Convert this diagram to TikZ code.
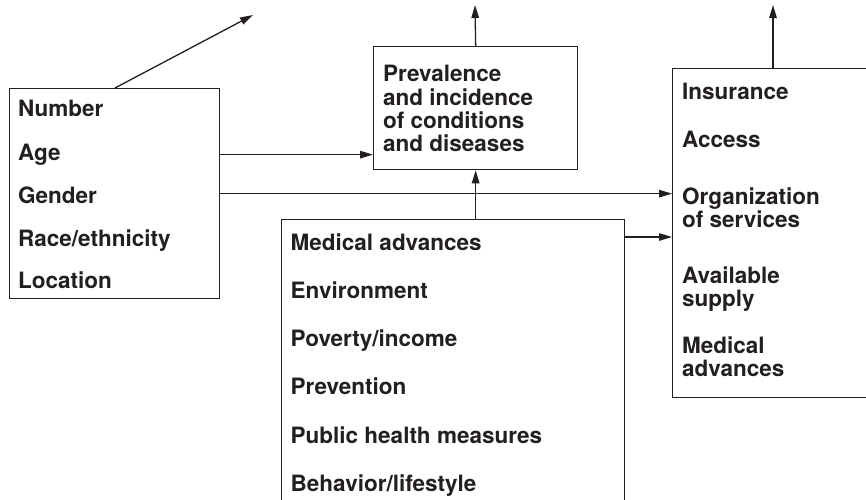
\documentclass[tikz,border=0pt]{standalone}
\usepackage{fontspec}
\setmainfont{TeX Gyre Heros}
\usetikzlibrary{arrows.meta,calc}
\definecolor{ink}{HTML}{231F20}
\begin{document}
\begin{tikzpicture}[x=1pt,y=-1pt,
  box/.style={draw=ink,line width=1.3pt,inner sep=0pt,anchor=north west},
  lbl/.style={anchor=base west,inner sep=0pt,font=\fontsize{22.5}{23.3}\selectfont\bfseries,text=ink},
  conn/.style={draw=ink,line width=1.3pt},
  arr/.style={conn,-{Triangle[length=13pt,width=7.5pt]}}]
\clip (0,0) rectangle (866,499);
% boxes
\node[box,minimum width=210pt,minimum height=210pt] (demo) at (9,88) {};
\node[box,minimum width=204pt,minimum height=123pt] (prev) at (373,46) {};
\node[box,minimum width=343pt,minimum height=300pt] (med) at (281,219) {};
\node[box,minimum width=230pt,minimum height=329pt] (care) at (672,68) {};
% left box text
\node[lbl] (d1) at (18,116.7) {Number};
\node[lbl] (d2) at (18,160) {Age};
\node[lbl] (d3) at (18,203) {Gender};
\node[lbl] (d4) at (18,246) {Race/ethnicity};
\node[lbl] (d5) at (18,288.5) {Location};
% prevalence text
\node[lbl] (p1) at (383,81.7) {Prevalence};
\node[lbl] (p2) at (383,105) {and incidence};
\node[lbl] (p3) at (383,128.3) {of conditions};
\node[lbl] (p4) at (383,151.3) {and diseases};
% middle box text
\node[lbl] (m1) at (290.5,250) {Medical advances};
\node[lbl] (m2) at (290.5,298.3) {Environment};
\node[lbl] (m3) at (290.5,346.6) {Poverty/income};
\node[lbl] (m4) at (290.5,394.9) {Prevention};
\node[lbl] (m5) at (290.5,443.2) {Public health measures};
\node[lbl] (m6) at (290.5,491.5) {Behavior/lifestyle};
% right box text
\node[lbl] (c1) at (682,99.3) {Insurance};
\node[lbl] (c2) at (682,147) {Access};
\node[lbl] (c3) at (682,204) {Organization};
\node[lbl] (c4) at (682,227) {of services};
\node[lbl] (c5) at (682,283) {Available};
\node[lbl] (c6) at (682,306) {supply};
\node[lbl] (c7) at (682,353) {Medical};
\node[lbl] (c8) at (682,376) {advances};
% free ends
\coordinate (t1) at (253,15);
\coordinate (t2) at (475,5);
\coordinate (t3) at (773,5);
% connectors
\draw[arr] ([xshift=106pt]demo.north west) -- (t1);
\draw[arr] (prev.north) -- (t2);
\draw[arr] ([xshift=101pt]care.north west) -- (t3);
\draw[arr] ([yshift=39pt]demo.east) -- ([yshift=39pt]demo.east -| prev.west);
\draw[arr] (demo.east) -- (demo.east -| care.west);
\draw[arr] (prev.south |- med.north) -- (prev.south);
\draw[arr] ([yshift=-18pt]med.north east) -- ([yshift=-18pt]med.north east -| care.west);
\end{tikzpicture}
\end{document}
